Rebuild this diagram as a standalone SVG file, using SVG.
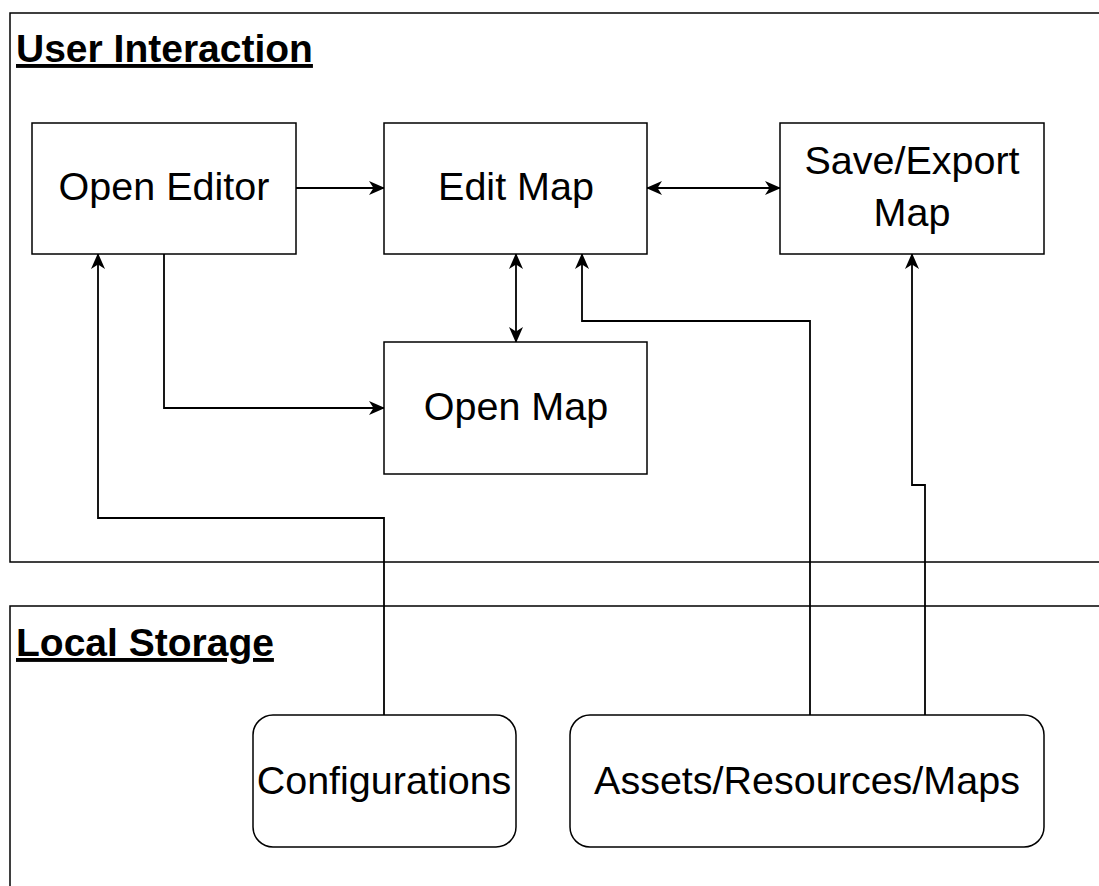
<svg xmlns="http://www.w3.org/2000/svg" width="1099" height="886" viewBox="0 0 1099 886">
<style>
.box{fill:#fff;stroke:#000;stroke-width:1.5}
.cont{fill:none;stroke:#000;stroke-width:1.5}
.lbl{font-family:"Liberation Sans",Arial,sans-serif;font-size:39.5px;fill:#000;text-anchor:middle}
.ttl{font-family:"Liberation Sans",Arial,sans-serif;font-size:39px;font-weight:bold;fill:#000;text-decoration:underline}
.edge{fill:none;stroke:#000;stroke-width:1.8}
</style>
<defs>
<marker id="arr" viewBox="0 0 16 16" refX="15" refY="8" markerWidth="16" markerHeight="16" markerUnits="userSpaceOnUse" orient="auto-start-reverse">
<path d="M0,1 L16,8 L0,15 L4.5,8 Z" fill="#000"/>
</marker>
</defs>
<g id="user-interaction">
<rect class="cont" x="10" y="13" width="1100" height="549"/>
<text class="ttl" x="16" y="62">User Interaction</text>
</g>
<g id="local-storage">
<rect class="cont" x="10" y="606" width="1100" height="300"/>
<text class="ttl" x="16" y="656">Local Storage</text>
</g>
<g id="connectors">
<path class="edge" d="M296,188 L384,188" marker-end="url(#arr)"/>
<path class="edge" d="M647,188 L780,188" marker-start="url(#arr)" marker-end="url(#arr)"/>
<path class="edge" d="M516,254 L516,342" marker-start="url(#arr)" marker-end="url(#arr)"/>
<path class="edge" d="M164,254 L164,408 L384,408" marker-end="url(#arr)"/>
<path class="edge" d="M384,715 L384,518 L98,518 L98,254" marker-end="url(#arr)"/>
<path class="edge" d="M810,715 L810,321 L582,321 L582,254" marker-end="url(#arr)"/>
<path class="edge" d="M925,715 L925,485 L912,485 L912,254" marker-end="url(#arr)"/>
</g>
<g id="open-editor">
<rect class="box" x="32" y="123" width="264" height="131"/>
<text class="lbl" x="164" y="200">Open Editor</text>
</g>
<g id="edit-map">
<rect class="box" x="384" y="123" width="263" height="131"/>
<text class="lbl" x="516" y="200">Edit Map</text>
</g>
<g id="save-export-map">
<rect class="box" x="780" y="123" width="264" height="131"/>
<text class="lbl" x="912" y="174">Save/Export</text>
<text class="lbl" x="912" y="226">Map</text>
</g>
<g id="open-map">
<rect class="box" x="384" y="342" width="263" height="132"/>
<text class="lbl" x="516" y="420">Open Map</text>
</g>
<g id="configurations">
<rect class="box" x="253" y="715" width="263" height="132" rx="20" ry="20"/>
<text class="lbl" x="384" y="794">Configurations</text>
</g>
<g id="assets">
<rect class="box" x="570" y="715" width="474" height="132" rx="20" ry="20"/>
<text class="lbl" x="807" y="794">Assets/Resources/Maps</text>
</g>
</svg>
